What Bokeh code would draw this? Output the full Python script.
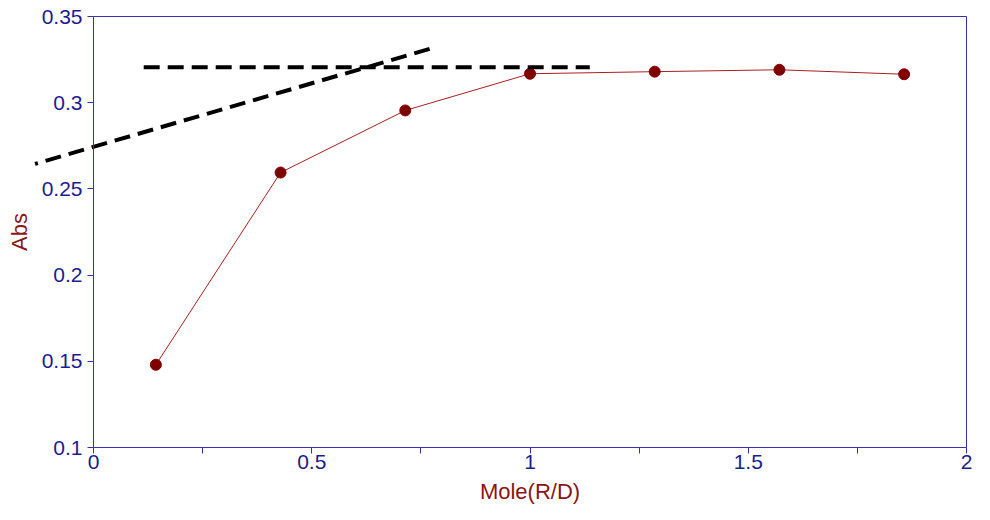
from bokeh.plotting import figure
from bokeh.models import FixedTicker, Range1d, ColumnDataSource, LinearAxis
from bokeh.embed import file_html
from bokeh.resources import INLINE

# Data
mole = [0.1429, 0.4286, 0.7143, 1.0, 1.2857, 1.5714, 1.8571]
absorb = [0.148, 0.2595, 0.2955, 0.3168, 0.318, 0.3191, 0.3165]

# tangent lines
flat_x = [0.115, 1.137]
flat_y = [0.3205, 0.3205]
slope_x = [-0.134, 0.781]
slope_y = [0.2645, 0.332]

x_ticks = [0, 0.5, 1, 1.5, 2]
x_minor = [0.25, 0.75, 1.25, 1.75]
x_labels = ["0", "0.5", "1", "1.5", "2"]
y_ticks = [0.1, 0.15, 0.2, 0.25, 0.3, 0.35]
y_labels = ["0.1", "0.15", "0.2", "0.25", "0.3", "0.35"]

FONT = "Liberation Sans"
AXIS_COL = "#3434a8"
TICK_COL = "#1c1c8e"
TITLE_COL = "#8b1515"
SERIES_COL = "#800000"

# ---- layout: the frame covers the whole canvas, axes are drawn at fixed data locations
W, H = 974, 504
X0, X1 = 0.0, 2.0          # axis box in data units
Y0, Y1 = 0.1, 0.35
px_x0, px_x1 = 93, 966     # where the axis box sits on the canvas (pixels)
px_ytop, px_ybot = 16, 447
sx = (px_x1 - px_x0) / (X1 - X0)
sy = (px_ybot - px_ytop) / (Y1 - Y0)
xr = Range1d(X0 - px_x0 / sx, X0 + (W - px_x0) / sx)
yr = Range1d(Y1 - (H - px_ytop) / sy, Y1 + px_ytop / sy)

p = figure(width=W, height=H, output_backend="svg", toolbar_location=None,
           x_range=xr, y_range=yr,
           min_border_left=0, min_border_top=0, min_border_bottom=0, min_border_right=0)
p.title.visible = False
p.background_fill_color = "white"
p.border_fill_color = "white"
p.outline_line_color = None
p.xgrid.visible = False
p.ygrid.visible = False

xa = p.xaxis[0]
ya = p.yaxis[0]
xa.ticker = FixedTicker(ticks=x_ticks, minor_ticks=x_minor)
xa.major_label_overrides = {t: l for t, l in zip(x_ticks, x_labels)}
xa.bounds = (X0, X1)
xa.fixed_location = Y0
ya.ticker = FixedTicker(ticks=y_ticks, minor_ticks=[])
ya.major_label_overrides = {t: l for t, l in zip(y_ticks, y_labels)}
ya.bounds = (Y0, Y1)
ya.fixed_location = X0

for ax in (xa, ya):
    ax.axis_line_color = AXIS_COL
    ax.axis_line_width = 1
    ax.major_tick_line_color = AXIS_COL
    ax.minor_tick_line_color = AXIS_COL
    ax.major_tick_in = 0
    ax.major_tick_out = 6
    ax.minor_tick_in = 0
    ax.minor_tick_out = 6
    ax.major_label_text_font = FONT
    ax.major_label_text_font_size = "21px"
    ax.major_label_text_color = TICK_COL
    ax.axis_label_text_font = FONT
    ax.axis_label_text_font_size = "22px"
    ax.axis_label_text_font_style = "normal"
    ax.axis_label_text_color = TITLE_COL

xa.axis_label = "Mole(R/D)"
ya.axis_label = "Abs"
xa.major_label_standoff = 1
ya.major_label_standoff = 5
xa.axis_label_standoff = 7
ya.axis_label_standoff = 7

# top and right border lines of the axes box
top = LinearAxis(ticker=FixedTicker(ticks=[], minor_ticks=[]), axis_line_color=AXIS_COL,
                 major_tick_in=0, major_tick_out=0, minor_tick_in=0, minor_tick_out=0,
                 major_label_text_font_size="0px", bounds=(X0, X1), fixed_location=Y1)
right = LinearAxis(ticker=FixedTicker(ticks=[], minor_ticks=[]), axis_line_color=AXIS_COL,
                   major_tick_in=0, major_tick_out=0, minor_tick_in=0, minor_tick_out=0,
                   major_label_text_font_size="0px", bounds=(Y0, Y1), fixed_location=X1)
p.add_layout(top, "above")
p.add_layout(right, "right")

src = ColumnDataSource(dict(x=mole, y=absorb))
p.line("x", "y", source=src, line_color="#a82020", line_width=1)
p.scatter("x", "y", source=src, size=11, fill_color=SERIES_COL, line_color=SERIES_COL)

p.line(flat_x, flat_y, line_color="black", line_width=4, line_dash="16 8")
p.line(slope_x, slope_y, line_color="black", line_width=4, line_dash="16 8", line_dash_offset=13)

open("out.html", "w").write(file_html(p, INLINE))
